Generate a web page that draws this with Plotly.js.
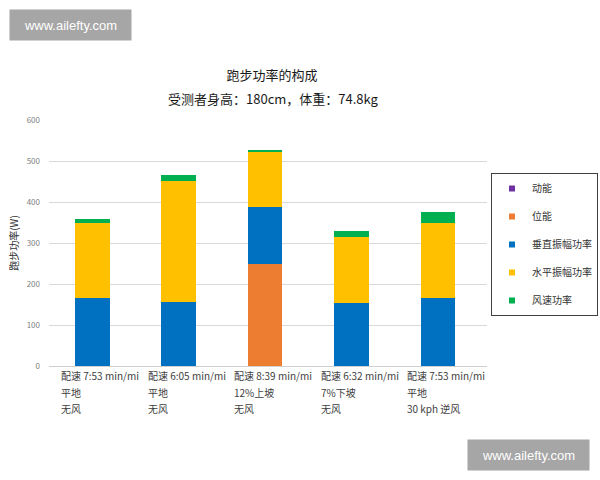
<!DOCTYPE html>
<html>
<head>
<meta charset="utf-8">
<script src="https://cdn.plot.ly/plotly-3.0.1.min.js"></script>
<style>
  body { margin: 0; background: #fff; }
  #chart { width: 600px; height: 480px; }
</style>
</head>
<body>
<div id="chart"></div>
<script>
// category labels (three lines under every bar)
let paceLabels = ["配速 7:53 min/mi", "配速 6:05 min/mi", "配速 8:39 min/mi", "配速 6:32 min/mi", "配速 7:53 min/mi"];
let terrainLabels = ["平地", "平地", "12%上坡", "7%下坡", "平地"];
let windLabels = ["无风", "无风", "无风", "无风", "30 kph 逆风"];

// power values, W
let kinetic = [0, 0, 0, 0, 0];
let potential = [0, 0, 250, 0, 0];
let vertical = [165, 155, 138, 153, 165];
let horizontal = [185, 296, 135, 162, 185];
let wind = [8, 16, 4, 15, 25];

let seriesNames = ["动能", "位能", "垂直振幅功率", "水平振幅功率", "风速功率"];
let seriesColors = ["#7030A0", "#ED7D31", "#0070C0", "#FFC000", "#00B050"];

let categories = paceLabels.map((p, i) => p + "|" + terrainLabels[i] + "|" + windLabels[i]);

let font = "'Noto Sans CJK SC', 'Noto Sans', sans-serif";

function generateChart() {

    let values = [kinetic, potential, vertical, horizontal, wind];
    let traces = [];

    // stacked bars, first trace sits at the bottom
    for(let i = 0; i < values.length; i++) {

        traces.push({
            x: categories,
            y: values[i],
            type: 'bar',
            name: seriesNames[i],
            showlegend: false,
            marker: {color: seriesColors[i], line: {width: 0}},
            hoverinfo: 'y+name'
        });

    }

    // legend entries with small square symbols
    for(let i = 0; i < seriesNames.length; i++) {

        traces.push({
            x: [null],
            y: [null],
            type: 'scatter',
            mode: 'markers',
            name: seriesNames[i],
            legendgroup: 'g' + i,
            marker: {color: seriesColors[i], symbol: 'square', size: 6}
        });

    }

    let annotations = [];
    let lines = [paceLabels, terrainLabels, windLabels];
    let shifts = [-9, -26, -42];

    for(let l = 0; l < lines.length; l++) {

        for(let i = 0; i < categories.length; i++) {

            annotations.push({
                x: categories[i],
                y: 0,
                xref: 'x',
                yref: 'paper',
                text: lines[l][i],
                showarrow: false,
                xanchor: 'left',
                yanchor: 'middle',
                xshift: -33,
                yshift: shifts[l],
                font: {family: font, size: 10, color: '#404040'}
            });

        }

    }

    // subtitle
    annotations.push({
        x: (273 - 49) / 438,
        y: (366 - 99) / 246,
        xref: 'paper',
        yref: 'paper',
        text: "受测者身高：180cm，体重：74.8kg",
        showarrow: false,
        xanchor: 'center',
        yanchor: 'middle',
        font: {family: font, size: 13, color: '#1a1a1a'}
    });

    // watermark boxes
    let marks = [[70.5, 25], [528.5, 455]];
    for(let m of marks) {

        annotations.push({
            x: (m[0] - 49) / 438,
            y: (366 - m[1]) / 246,
            xref: 'paper',
            yref: 'paper',
            text: "www.ailefty.com",
            showarrow: false,
            xanchor: 'center',
            yanchor: 'middle',
            width: 117,
            height: 26,
            borderpad: 2,
            bgcolor: '#A6A6A6',
            font: {family: "'Liberation Sans', Arial, sans-serif", size: 13, color: '#ffffff'}
        });

    }

    let layout = {
        width: 600,
        height: 480,
        barmode: 'stack',
        bargap: 0.6,
        paper_bgcolor: '#ffffff',
        plot_bgcolor: '#ffffff',
        margin: {l: 49, r: 113, t: 120, b: 114, autoexpand: false},
        font: {family: font, size: 10, color: '#404040'},
        title: {
            text: "跑步功率的构成",
            x: 272 / 600,
            xanchor: 'center',
            y: 1 - 75 / 480,
            yanchor: 'middle',
            font: {family: font, size: 13, color: '#1a1a1a'}
        },
        xaxis: {
            type: 'category',
            showticklabels: false,
            showgrid: false,
            showline: false,
            zeroline: false,
            fixedrange: true
        },
        yaxis: {
            range: [0, 600],
            dtick: 100,
            showgrid: true,
            gridcolor: '#d9d9d9',
            gridwidth: 1,
            zeroline: true,
            zerolinecolor: '#d0d0d0',
            zerolinewidth: 1,
            showline: false,
            ticks: '',
            ticklabelstandoff: 8,
            tickfont: {family: font, size: 8, color: '#808080'},
            title: {
                text: "跑步功率(W)",
                standoff: 6,
                font: {family: font, size: 10, color: '#333333'}
            }
        },
        legend: {
            xref: 'container',
            yref: 'container',
            x: 491 / 600,
            xanchor: 'left',
            y: 1 - 173 / 480,
            yanchor: 'top',
            traceorder: 'grouped',
            tracegroupgap: 9,
            itemwidth: 30,
            bordercolor: '#404040',
            borderwidth: 1,
            bgcolor: '#ffffff',
            font: {family: font, size: 10, color: '#333333'}
        },
        annotations: annotations
    };

    Plotly.newPlot('chart', traces, layout, {displayModeBar: false, staticPlot: true});

}

generateChart();
</script>
</body>
</html>
